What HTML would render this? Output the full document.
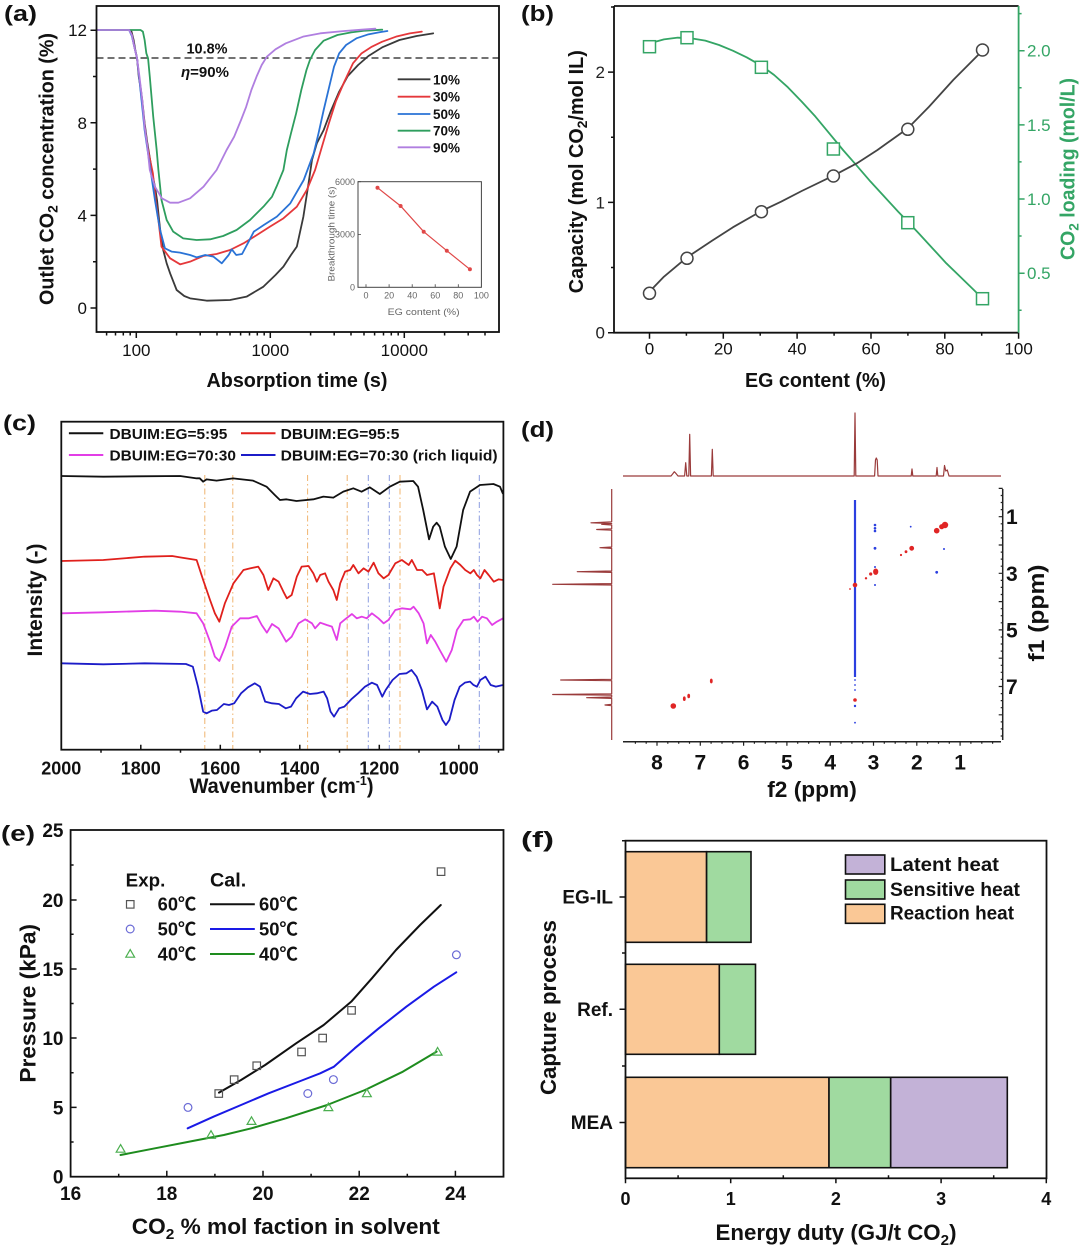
<!DOCTYPE html>
<html><head><meta charset="utf-8">
<style>
html,body{margin:0;padding:0;background:#fff;}
svg{display:block;}
text{font-family:"Liberation Sans",Arial,"Noto Sans CJK SC",sans-serif;fill:#111;}
.b{font-weight:bold;}
.ns{vector-effect:non-scaling-stroke;fill:none;stroke-linejoin:round;stroke-linecap:round;}
</style></head><body>
<svg width="1080" height="1249" viewBox="0 0 1080 1249" xmlns="http://www.w3.org/2000/svg">
<rect width="1080" height="1249" fill="#fff"/>

<!-- ============ PANEL A ============ -->
<text x="4" y="21" font-size="22" class="b" textLength="33" lengthAdjust="spacingAndGlyphs">(a)</text>
<line x1="96.5" y1="58" x2="499" y2="58" stroke="#444" stroke-width="1.6" stroke-dasharray="7,4"/>
<g transform="scale(0.34435,0.33333)">
<path class="ns" stroke="#3a3a3a" stroke-width="1.8" d="M282,90 L375,90 L382,95 L388,120 L393,150 L398,175 L403,230 L408,260 L413,300 L420,370 L428,430 L436,480 L442,520 L450,560 L456,600 L462,660 L468,715 L474,750 L484,790 L494,820 L513,870 L535,888 L552,895 L600,902 L668,900 L716,890 L765,860 L800,825 L823,800 L845,765 L862,740 L881,650 L896,550 L906,480 L920,430 L940,390 L960,335 L985,275 L1010,228 L1040,195 L1070,168 L1110,142 L1160,120 L1210,108 L1258,100"/>
<path class="ns" stroke="#e5383b" stroke-width="1.8" d="M282,90 L375,90 L383,105 L390,140 L398,175 L405,240 L412,300 L420,380 L428,440 L436,480 L444,520 L452,600 L460,660 L469,740 L494,775 L523,793 L552,785 L590,768 L629,762 L668,750 L707,730 L746,705 L784,680 L823,655 L862,620 L891,570 L915,510 L935,440 L955,370 L975,305 L1000,245 L1025,190 L1050,160 L1080,140 L1110,125 L1150,110 L1190,100 L1225,95"/>
<path class="ns" stroke="#2a73d6" stroke-width="1.8" d="M282,90 L375,90 L383,108 L390,140 L398,175 L405,240 L412,310 L420,390 L430,460 L440,530 L450,600 L458,650 L465,690 L479,745 L499,755 L523,758 L552,765 L571,772 L596,765 L620,770 L644,790 L664,765 L673,748 L686,765 L703,762 L722,725 L737,695 L766,675 L804,650 L843,610 L882,540 L911,460 L925,400 L940,330 L955,265 L970,200 L985,160 L1005,135 L1035,115 L1070,103 L1100,97 L1125,93"/>
<path class="ns" stroke="#2e9e5e" stroke-width="1.8" d="M282,90 L408,90 L415,95 L420,120 L425,160 L430,175 L435,230 L440,290 L445,350 L450,400 L455,450 L460,510 L469,600 L484,660 L503,695 L532,715 L571,720 L610,718 L648,708 L687,690 L726,660 L765,620 L790,590 L803,560 L815,530 L823,510 L833,450 L845,400 L860,340 L875,270 L890,210 L900,180 L915,150 L940,122 L980,105 L1020,97 L1060,92 L1110,89"/>
<path class="ns" stroke="#b07fe0" stroke-width="1.8" d="M282,90 L375,90 L383,105 L390,140 L398,175 L405,230 L413,300 L420,380 L428,440 L435,510 L450,560 L470,595 L494,608 L518,608 L552,595 L591,560 L629,510 L658,450 L680,410 L700,360 L715,320 L730,270 L745,230 L760,195 L775,170 L800,148 L830,130 L880,110 L930,100 L1000,93 L1050,89 L1090,86"/>
</g>
<rect x="96.5" y="6" width="402.5" height="326" fill="none" stroke="#111" stroke-width="1.8"/>
<path stroke="#111" stroke-width="1.5" fill="none" d="M90.5,308H96.5 M90.5,215.4H96.5 M90.5,122.8H96.5 M90.5,30.2H96.5 M93,261.7H96.5 M93,169.1H96.5 M93,76.5H96.5 M136.3,332V338 M270.3,332V338 M404.3,332V338 M106.6,332V335.5 M115.5,332V335.5 M123.3,332V335.5 M130.2,332V335.5 M176.6,332V335.5 M200.2,332V335.5 M217,332V335.5 M230,332V335.5 M240.6,332V335.5 M249.5,332V335.5 M257.3,332V335.5 M264.2,332V335.5 M310.6,332V335.5 M334.2,332V335.5 M351,332V335.5 M364,332V335.5 M374.6,332V335.5 M383.5,332V335.5 M391.3,332V335.5 M398.2,332V335.5 M444.6,332V335.5 M468.2,332V335.5 M485,332V335.5"/>
<g font-size="17" text-anchor="end">
<text x="87" y="314">0</text><text x="87" y="221.4">4</text><text x="87" y="128.8">8</text><text x="87" y="36.2">12</text>
</g>
<g font-size="17" text-anchor="middle">
<text x="136.3" y="356">100</text><text x="270.3" y="356">1000</text><text x="404.3" y="356">10000</text>
</g>
<text transform="translate(53.7,169) rotate(-90)" font-size="20" class="b" text-anchor="middle" textLength="272" lengthAdjust="spacingAndGlyphs">Outlet CO<tspan font-size="14" dy="4">2</tspan><tspan dy="-4"> concentration (%)</tspan></text>
<text x="297" y="387" font-size="20" class="b" text-anchor="middle" textLength="181" lengthAdjust="spacingAndGlyphs">Absorption time (s)</text>
<text x="207" y="53.5" font-size="15" class="b" text-anchor="middle" textLength="41" lengthAdjust="spacingAndGlyphs">10.8%</text>
<text x="205" y="77" font-size="15" class="b" text-anchor="middle" textLength="48" lengthAdjust="spacingAndGlyphs"><tspan font-style="italic">η</tspan>=90%</text>
<!-- legend a -->
<g stroke-width="1.8">
<line x1="397.7" y1="79.3" x2="430.4" y2="79.3" stroke="#3a3a3a"/>
<line x1="397.7" y1="96.7" x2="430.4" y2="96.7" stroke="#e5383b"/>
<line x1="397.7" y1="114" x2="430.4" y2="114" stroke="#2a73d6"/>
<line x1="397.7" y1="130.7" x2="430.4" y2="130.7" stroke="#2e9e5e"/>
<line x1="397.7" y1="147.3" x2="430.4" y2="147.3" stroke="#b07fe0"/>
</g>
<g font-size="14" class="b">
<text x="433" y="84.3" textLength="27" lengthAdjust="spacingAndGlyphs">10%</text>
<text x="433" y="101.7" textLength="27" lengthAdjust="spacingAndGlyphs">30%</text>
<text x="433" y="119" textLength="27" lengthAdjust="spacingAndGlyphs">50%</text>
<text x="433" y="135.7" textLength="27" lengthAdjust="spacingAndGlyphs">70%</text>
<text x="433" y="152.3" textLength="27" lengthAdjust="spacingAndGlyphs">90%</text>
</g>
<!-- inset -->
<rect x="358" y="181.7" width="123.4" height="105.6" fill="#fff" stroke="#444" stroke-width="1"/>
<path stroke="#444" stroke-width="0.8" d="M358,181.7h3 M358,234.5h3 M358,287.3h-0 M366,287.3v-3 M389.1,287.3v-3 M412.2,287.3v-3 M435.2,287.3v-3 M458.3,287.3v-3"/>
<polyline fill="none" stroke="#e04848" stroke-width="1.2" points="377.5,187.7 400.6,206 423.7,231.7 446.8,250.7 469.9,269.3"/>
<g fill="#e04848"><circle cx="377.5" cy="187.7" r="2"/><circle cx="400.6" cy="206" r="2"/><circle cx="423.7" cy="231.7" r="2"/><circle cx="446.8" cy="250.7" r="2"/><circle cx="469.9" cy="269.3" r="2"/></g>
<g font-size="9" style="fill:#666" text-anchor="end">
<text x="355" y="185" style="fill:#666">6000</text><text x="355" y="237.5" style="fill:#666">3000</text><text x="355" y="290.5" style="fill:#666">0</text>
</g>
<g font-size="9" text-anchor="middle">
<text x="366" y="298.5" style="fill:#666">0</text><text x="389.1" y="298.5" style="fill:#666">20</text><text x="412.2" y="298.5" style="fill:#666">40</text><text x="435.2" y="298.5" style="fill:#666">60</text><text x="458.3" y="298.5" style="fill:#666">80</text><text x="481.4" y="298.5" style="fill:#666">100</text>
</g>
<text transform="translate(334.5,234) rotate(-90)" font-size="9.5" text-anchor="middle" textLength="95" lengthAdjust="spacingAndGlyphs" style="fill:#666">Breakthrough time (s)</text>
<text x="423.6" y="315" font-size="9.5" text-anchor="middle" textLength="72" lengthAdjust="spacingAndGlyphs" style="fill:#666">EG content (%)</text>

<!-- ============ PANEL B ============ -->
<text x="521" y="21" font-size="22" class="b" textLength="33" lengthAdjust="spacingAndGlyphs">(b)</text>
<g transform="translate(540,0) scale(0.34435,0.33333)">
<path class="ns" stroke="#34a565" stroke-width="1.8" d="M318,130 L360,118 L400,113 L440,115 L480,122 L520,135 L560,152 L600,172 L643,197 L680,225 L720,262 L760,305 L800,350 L840,400 L880,450 L920,497 L960,545 L1000,590 L1040,635 L1068,665 L1100,700 L1140,745 L1180,790 L1220,830 L1260,870 L1285,896"/>
<path class="ns" stroke="#444" stroke-width="1.8" d="M318,875 L360,830 L427,772 L500,722 L560,682 L643,633 L700,605 L760,573 L852,527 L920,490 L980,450 L1068,385 L1130,320 L1200,240 L1285,152"/>
</g>
<g fill="#fff" stroke="#444" stroke-width="1.5">
<circle cx="649.5" cy="293.3" r="6"/><circle cx="687" cy="258.3" r="6"/><circle cx="761.4" cy="211.7" r="6"/><circle cx="833.4" cy="176" r="6"/><circle cx="907.8" cy="129.3" r="6"/><circle cx="982.5" cy="50" r="6"/>
</g>
<g fill="#fff" stroke="#34a565" stroke-width="1.5">
<rect x="643.5" y="40.7" width="12" height="12"/><rect x="681" y="31.7" width="12" height="12"/><rect x="755.4" y="61.3" width="12" height="12"/><rect x="827.4" y="143" width="12" height="12"/><rect x="901.8" y="216.7" width="12" height="12"/><rect x="976.5" y="292.7" width="12" height="12"/>
</g>
<path stroke="#111" stroke-width="1.8" fill="none" d="M614,6H1018.6 M614,6V332.7H1018.6"/>
<line x1="1018.6" y1="6" x2="1018.6" y2="332.7" stroke="#34a565" stroke-width="1.8"/>
<path stroke="#111" stroke-width="1.5" fill="none" d="M608,332.7H614 M608,202.4H614 M608,72.1H614 M611,267.5H614 M611,137.2H614 M611,7H614 M649.5,332.7v6 M723.3,332.7v6 M797.1,332.7v6 M871,332.7v6 M944.8,332.7v6 M1018.6,332.7v6 M686.4,332.7v3 M760.2,332.7v3 M834.1,332.7v3 M907.9,332.7v3 M981.7,332.7v3"/>
<path stroke="#34a565" stroke-width="1.5" fill="none" d="M1018.6,273.2h6 M1018.6,199h6 M1018.6,124.9h6 M1018.6,50.7h6 M1018.6,310.2h3 M1018.6,236h3 M1018.6,161.9h3 M1018.6,87.8h3 M1018.6,13.6h3"/>
<g font-size="17" text-anchor="end">
<text x="605" y="338.7" style="fill:#222">0</text><text x="605" y="208.4" style="fill:#222">1</text><text x="605" y="78.1" style="fill:#222">2</text>
</g>
<g font-size="17">
<text x="1027" y="279.2" style="fill:#34a565">0.5</text><text x="1027" y="205" style="fill:#34a565">1.0</text><text x="1027" y="130.9" style="fill:#34a565">1.5</text><text x="1027" y="56.7" style="fill:#34a565">2.0</text>
</g>
<g font-size="17" text-anchor="middle">
<text x="649.5" y="354.5">0</text><text x="723.3" y="354.5">20</text><text x="797.1" y="354.5">40</text><text x="871" y="354.5">60</text><text x="944.8" y="354.5">80</text><text x="1018.6" y="354.5">100</text>
</g>
<text transform="translate(583,171.7) rotate(-90)" font-size="20" class="b" text-anchor="middle" textLength="243" lengthAdjust="spacingAndGlyphs">Capacity (mol CO<tspan font-size="14" dy="4">2</tspan><tspan dy="-4">/mol IL)</tspan></text>
<text transform="translate(1074.5,169) rotate(-90)" font-size="20" class="b" text-anchor="middle" textLength="182" lengthAdjust="spacingAndGlyphs" style="fill:#34a565">CO<tspan font-size="14" dy="4" style="fill:#34a565">2</tspan><tspan dy="-4" style="fill:#34a565"> loading (mol/L)</tspan></text>
<text x="815.5" y="387" font-size="20" class="b" text-anchor="middle" textLength="141" lengthAdjust="spacingAndGlyphs">EG content (%)</text>

<!-- ============ PANEL C ============ -->
<text x="3" y="430.5" font-size="22" class="b" textLength="33" lengthAdjust="spacingAndGlyphs">(c)</text>
<g stroke-width="1" fill="none" stroke-dasharray="6,3,1.5,3">
<path stroke="#f0b46e" d="M204.8,475V750 M232.8,475V750 M307.6,475V750 M347.2,475V750 M400,475V750"/>
<path stroke="#8a9de0" d="M368.3,475V750 M389.3,475V750 M479.3,475V750"/>
</g>
<g transform="translate(0,400) scale(0.34435,0.33333)">
<path class="ns" stroke="#111" stroke-width="1.8" d="M178,228 L300,230 L400,229 L523,228 L571,235 L580,235 L590,245 L600,238 L629,242 L677,235 L735,242 L774,260 L798,285 L813,300 L832,298 L861,303 L910,298 L939,290 L968,293 L997,275 L1026,265 L1050,275 L1074,262 L1103,282 L1132,260 L1161,245 L1200,243 L1214,260 L1229,330 L1246,418 L1258,380 L1268,368 L1277,380 L1292,440 L1309,477 L1326,440 L1345,330 L1365,275 L1394,255 L1433,252 L1452,260 L1460,280"/>
<path class="ns" stroke="#e0201c" stroke-width="1.8" d="M178,483 L300,480 L420,470 L500,468 L523,472 L571,480 L590,540 L610,600 L624,640 L637,665 L653,610 L678,550 L707,510 L726,505 L750,500 L765,525 L779,570 L794,535 L809,545 L823,575 L833,595 L847,585 L862,530 L876,500 L896,498 L910,520 L920,545 L930,525 L944,520 L954,545 L968,570 L978,600 L988,550 L1002,515 L1017,510 L1026,495 L1041,520 L1056,505 L1070,515 L1085,488 L1099,520 L1114,535 L1128,525 L1148,490 L1167,480 L1187,495 L1196,480 L1211,510 L1226,510 L1240,525 L1260,520 L1269,575 L1277,625 L1288,560 L1308,505 L1322,482 L1337,495 L1351,510 L1366,520 L1376,510 L1385,525 L1395,535 L1407,510 L1419,525 L1434,545 L1448,538 L1461,540"/>
<path class="ns" stroke="#e23ee6" stroke-width="1.8" d="M178,640 L300,637 L450,632 L523,635 L571,640 L590,670 L610,725 L624,770 L637,783 L654,740 L673,680 L697,655 L722,655 L746,648 L760,675 L775,698 L790,672 L809,685 L831,725 L847,710 L867,670 L886,658 L906,670 L915,685 L930,668 L949,675 L964,680 L978,720 L988,670 L1002,658 L1022,642 L1036,655 L1051,650 L1065,655 L1080,640 L1099,655 L1114,670 L1128,660 L1148,630 L1167,625 L1192,628 L1201,620 L1216,640 L1230,670 L1240,730 L1251,705 L1264,725 L1277,750 L1296,785 L1312,750 L1327,690 L1346,660 L1366,658 L1376,650 L1387,665 L1400,650 L1414,655 L1429,675 L1443,665 L1461,655"/>
<path class="ns" stroke="#1c1cc8" stroke-width="1.8" d="M178,790 L300,793 L420,790 L540,792 L560,800 L575,860 L590,935 L600,940 L615,932 L630,930 L650,912 L665,915 L680,910 L700,880 L720,862 L740,850 L755,860 L770,905 L790,910 L810,912 L830,925 L845,920 L860,895 L880,875 L900,882 L920,880 L940,875 L950,895 L960,935 L970,950 L985,925 L1000,920 L1020,898 L1040,880 L1060,860 L1080,848 L1095,855 L1110,890 L1120,870 L1140,840 L1160,822 L1180,820 L1195,810 L1210,830 L1225,870 L1240,928 L1255,905 L1270,920 L1285,960 L1295,975 L1305,960 L1320,900 L1335,860 L1350,848 L1365,845 L1375,855 L1385,860 L1395,840 L1410,830 L1425,855 L1440,860 L1461,855"/>
</g>
<rect x="61.3" y="421.7" width="442.1" height="328" fill="none" stroke="#111" stroke-width="1.8"/>
<path stroke="#111" stroke-width="1.5" fill="none" d="M140.8,749.7v-5 M220.3,749.7v-5 M299.8,749.7v-5 M379.3,749.7v-5 M458.8,749.7v-5 M101,749.7v3 M180.5,749.7v3 M260,749.7v3 M339.5,749.7v3 M419,749.7v3 M498.5,749.7v3"/>
<g font-size="18" class="b" text-anchor="middle">
<text x="61.3" y="774.5">2000</text><text x="140.8" y="774.5">1800</text><text x="220.3" y="774.5">1600</text><text x="299.8" y="774.5">1400</text><text x="379.3" y="774.5">1200</text><text x="458.8" y="774.5">1000</text>
</g>
<!-- legend c -->
<g stroke-width="2">
<line x1="68.9" y1="433.3" x2="103.3" y2="433.3" stroke="#111"/>
<line x1="241" y1="433.3" x2="275.5" y2="433.3" stroke="#e0201c"/>
<line x1="68.9" y1="455" x2="103.3" y2="455" stroke="#e23ee6"/>
<line x1="241" y1="455" x2="275.5" y2="455" stroke="#1c1cc8"/>
</g>
<g font-size="15" class="b">
<text x="109.5" y="438.8" textLength="117.8" lengthAdjust="spacingAndGlyphs">DBUIM:EG=5:95</text>
<text x="280.6" y="438.8" textLength="118.8" lengthAdjust="spacingAndGlyphs">DBUIM:EG=95:5</text>
<text x="109.5" y="460.5" textLength="126.4" lengthAdjust="spacingAndGlyphs">DBUIM:EG=70:30</text>
<text x="280.6" y="460.5" textLength="217" lengthAdjust="spacingAndGlyphs">DBUIM:EG=70:30 (rich liquid)</text>
</g>
<text transform="translate(42,600) rotate(-90)" font-size="21" class="b" text-anchor="middle" textLength="113" lengthAdjust="spacingAndGlyphs">Intensity (-)</text>
<text x="281.5" y="793" font-size="21" class="b" text-anchor="middle" textLength="184" lengthAdjust="spacingAndGlyphs">Wavenumber (cm<tspan font-size="13" dy="-8">-1</tspan><tspan dy="8">)</tspan></text>

<!-- ============ PANEL D ============ -->
<text x="521" y="437" font-size="22" class="b" textLength="33" lengthAdjust="spacingAndGlyphs">(d)</text>
<path fill="none" stroke="#9a3b3b" stroke-width="1.2" stroke-linejoin="round" d="M623,476 L671,476 L673,473.5 L674.3,471.7 L676,473.5 L678,476 L684.6,476 L685.7,462.7 L686.8,476 L688.8,476 L689.7,434.3 L690.6,476 L711.4,476 L712.3,449.3 L713.2,476 L854.2,476 L855,413 L855.8,476 L874.6,476 L875.5,460 L876.3,458 L877.2,460 L878,476 L911.2,476 L912,469 L912.8,476 L936.2,476 L937,467.5 L937.8,476 L943.5,476 L944.5,465.5 L945.8,471 L947.3,470 L949,476 L1001,476"/>
<path fill="none" stroke="#9a3b3b" stroke-width="1.2" stroke-linejoin="round" d="M611.7,489 L611.7,521.8 L591,522.8 L611.7,523.5 L601.7,524.3 L611.7,525 L611.7,528.8 L596.7,529.5 L611.7,530.2 L611.7,547 L600,547.7 L611.7,548.4 L611.7,571 L577.3,571.7 L611.7,572.4 L611.7,583.6 L552.7,584.3 L611.7,585 L611.7,679.3 L560.7,680 L611.7,680.7 L611.7,693.8 L552.7,694.5 L611.7,695.2 L611.7,697 L586.7,697.7 L611.7,698.4 L611.7,704.3 L605,705 L611.7,705.7 L611.7,740"/>
<!-- blue -->
<g fill="#2b3fe0">
<rect x="853.9" y="500" width="2.2" height="177"/>
<circle cx="855" cy="680" r="0.9"/><circle cx="855" cy="685" r="0.9"/><circle cx="855" cy="690" r="0.9"/><circle cx="855" cy="706" r="1.2"/><circle cx="855" cy="722.7" r="0.9"/>
<circle cx="875" cy="525" r="1.3"/><circle cx="875" cy="528.3" r="1.3"/><circle cx="875" cy="531" r="1.3"/><circle cx="875" cy="548.3" r="1.4"/><circle cx="875" cy="567" r="1"/><circle cx="875" cy="585" r="1"/>
<circle cx="910.7" cy="526.7" r="0.9"/><circle cx="944" cy="549" r="1"/><circle cx="936.7" cy="572.3" r="1.4"/>
</g>
<g fill="#e02525">
<circle cx="945" cy="525" r="3.2"/><circle cx="941.7" cy="526.7" r="2.6"/><circle cx="936.7" cy="530.7" r="2.8"/><circle cx="911.7" cy="548.3" r="2.4"/><circle cx="906" cy="551.7" r="1.4"/><circle cx="901" cy="555" r="1.1"/><ellipse cx="875.7" cy="571.7" rx="2.6" ry="3.2"/><circle cx="870.7" cy="574" r="1.6"/><circle cx="866" cy="578.3" r="1.2"/><circle cx="855" cy="585" r="2.3"/><circle cx="850" cy="589" r="0.9"/>
<ellipse cx="711.3" cy="681" rx="1.4" ry="2.4"/><ellipse cx="688.7" cy="696" rx="1.4" ry="2.3"/><ellipse cx="684.3" cy="698.7" rx="1.4" ry="2.3"/><circle cx="673.3" cy="706" r="2.8"/><circle cx="855" cy="700" r="1.8"/>
</g>
<!-- axes d -->
<path stroke="#222" stroke-width="1.5" fill="none" d="M623,741.7H1001 M1002.7,489V740"/>
<path stroke="#222" stroke-width="1.2" fill="none" d="M657,741.7v4 M700.3,741.7v4 M743.6,741.7v4 M786.9,741.7v4 M830.2,741.7v4 M873.5,741.7v4 M916.8,741.7v4 M960.1,741.7v4 M635.4,741.7v2 M646.2,741.7v2 M667.8,741.7v2 M678.7,741.7v2 M689.5,741.7v2 M711.1,741.7v2 M722,741.7v2 M732.8,741.7v2 M754.4,741.7v2 M765.3,741.7v2 M776.1,741.7v2 M797.7,741.7v2 M808.6,741.7v2 M819.4,741.7v2 M841,741.7v2 M851.9,741.7v2 M862.7,741.7v2 M884.3,741.7v2 M895.2,741.7v2 M906,741.7v2 M927.6,741.7v2 M938.5,741.7v2 M949.3,741.7v2 M970.9,741.7v2 M981.8,741.7v2 M992.6,741.7v2 M998.7,488.4h4 M998.7,516.7h4 M998.7,545h4 M998.7,573.3h4 M998.7,601.6h4 M998.7,629.9h4 M998.7,658.2h4 M998.7,686.5h4 M998.7,714.8h4 M1000.7,495.5h2 M1000.7,502.5h2 M1000.7,509.6h2 M1000.7,523.8h2 M1000.7,530.8h2 M1000.7,537.9h2 M1000.7,552.1h2 M1000.7,559.1h2 M1000.7,566.2h2 M1000.7,580.4h2 M1000.7,587.4h2 M1000.7,594.5h2 M1000.7,608.7h2 M1000.7,615.7h2 M1000.7,622.8h2 M1000.7,637h2 M1000.7,644h2 M1000.7,651.1h2 M1000.7,665.3h2 M1000.7,672.3h2 M1000.7,679.4h2 M1000.7,693.6h2 M1000.7,700.6h2 M1000.7,707.7h2 M1000.7,721.9h2 M1000.7,728.9h2 M1000.7,736h2"/>
<g font-size="21" class="b" text-anchor="middle">
<text x="657" y="769.5">8</text><text x="700.3" y="769.5">7</text><text x="743.6" y="769.5">6</text><text x="786.9" y="769.5">5</text><text x="830.2" y="769.5">4</text><text x="873.5" y="769.5">3</text><text x="916.8" y="769.5">2</text><text x="960.1" y="769.5">1</text>
</g>
<g font-size="21" class="b">
<text x="1006" y="524.2">1</text><text x="1006" y="580.8">3</text><text x="1006" y="637.4">5</text><text x="1006" y="694">7</text>
</g>
<text x="812" y="797" font-size="22" class="b" text-anchor="middle" textLength="89.5" lengthAdjust="spacingAndGlyphs">f2 (ppm)</text>
<text transform="translate(1044,613) rotate(-90)" font-size="22" class="b" text-anchor="middle" textLength="97" lengthAdjust="spacingAndGlyphs">f1 (ppm)</text>

<!-- ============ PANEL E ============ -->
<text x="1" y="841" font-size="22" class="b" textLength="34" lengthAdjust="spacingAndGlyphs">(e)</text>
<g transform="translate(0,810) scale(0.34435,0.33333)">
<path class="ns" stroke="#111" stroke-width="2" d="M636,848 L700,810 L770,765 L860,700 L940,645 L1020,575 L1080,505 L1150,420 L1220,345 L1280,285"/>
<path class="ns" stroke="#1a1ae6" stroke-width="2" d="M545,955 L620,920 L700,885 L780,850 L880,810 L930,790 L970,770 L1030,715 L1100,655 L1180,590 L1260,530 L1325,487"/>
<path class="ns" stroke="#1e8c1e" stroke-width="2" d="M350,1035 L450,1015 L550,995 L650,975 L730,955 L830,925 L950,885 L1060,840 L1170,785 L1268,725"/>
</g>
<g fill="none" stroke="#555" stroke-width="1.2">
<rect x="215" y="1089.8" width="7.5" height="7.5"/><rect x="230.4" y="1075.9" width="7.5" height="7.5"/><rect x="253" y="1062" width="7.5" height="7.5"/><rect x="297.8" y="1048.2" width="7.5" height="7.5"/><rect x="318.9" y="1034.3" width="7.5" height="7.5"/><rect x="347.8" y="1006.6" width="7.5" height="7.5"/><rect x="437.3" y="867.9" width="7.5" height="7.5"/>
<rect x="126.5" y="900.6" width="7.5" height="7.5"/>
</g>
<g fill="none" stroke="#6b6bd6" stroke-width="1.2">
<circle cx="188" cy="1107.4" r="3.9"/><circle cx="307.8" cy="1093.5" r="3.9"/><circle cx="333.4" cy="1079.6" r="3.9"/><circle cx="456.4" cy="954.8" r="3.9"/>
<circle cx="130.2" cy="929" r="3.9"/>
</g>
<g fill="none" stroke="#4caf50" stroke-width="1.2">
<path d="M120.6,1144.6 L125,1152.2 L116.2,1152.2Z M211,1130.7 L215.4,1138.3 L206.6,1138.3Z M251.5,1116.8 L255.9,1124.4 L247.1,1124.4Z M328.4,1103 L332.8,1110.6 L324,1110.6Z M366.9,1089.1 L371.3,1096.7 L362.5,1096.7Z M437.6,1047.5 L442,1055.1 L433.2,1055.1Z M130.2,949.6 L134.6,957.2 L125.8,957.2Z"/>
</g>
<rect x="70.6" y="830" width="432.9" height="346.7" fill="none" stroke="#111" stroke-width="1.8"/>
<path stroke="#111" stroke-width="1.5" fill="none" d="M70.6,1107.4h6 M70.6,1038h6 M70.6,969h6 M70.6,900h6 M70.6,1142h3 M70.6,1072.7h3 M70.6,1003.5h3 M70.6,934.3h3 M70.6,865h3 M166.8,1176.7v-6 M263,1176.7v-6 M359.2,1176.7v-6 M455.4,1176.7v-6 M118.7,1176.7v-3 M214.9,1176.7v-3 M311.1,1176.7v-3 M407.3,1176.7v-3"/>
<g font-size="19" class="b" text-anchor="end">
<text x="63.5" y="1183.7">0</text><text x="63.5" y="1114.4">5</text><text x="63.5" y="1045">10</text><text x="63.5" y="976">15</text><text x="63.5" y="907">20</text><text x="63.5" y="837">25</text>
</g>
<g font-size="19" class="b" text-anchor="middle">
<text x="70.6" y="1200">16</text><text x="166.8" y="1200">18</text><text x="263" y="1200">20</text><text x="359.2" y="1200">22</text><text x="455.4" y="1200">24</text>
</g>
<text x="125.7" y="886.5" font-size="18.5" class="b" textLength="39.6" lengthAdjust="spacingAndGlyphs">Exp.</text>
<text x="210" y="886.5" font-size="19" class="b" textLength="36.2" lengthAdjust="spacingAndGlyphs">Cal.</text>
<g stroke-width="2">
<line x1="210" y1="904.3" x2="254.8" y2="904.3" stroke="#111"/>
<line x1="210" y1="929" x2="254.8" y2="929" stroke="#1a1ae6"/>
<line x1="210" y1="954" x2="254.8" y2="954" stroke="#1e8c1e"/>
</g>
<g font-size="18" class="b">
<text x="157.7" y="910.7" textLength="38.6" lengthAdjust="spacingAndGlyphs">60℃</text>
<text x="157.7" y="935.4" textLength="38.6" lengthAdjust="spacingAndGlyphs">50℃</text>
<text x="157.7" y="960.4" textLength="38.6" lengthAdjust="spacingAndGlyphs">40℃</text>
<text x="259" y="910.7" textLength="38.9" lengthAdjust="spacingAndGlyphs">60℃</text>
<text x="259" y="935.4" textLength="38.9" lengthAdjust="spacingAndGlyphs">50℃</text>
<text x="259" y="960.4" textLength="38.9" lengthAdjust="spacingAndGlyphs">40℃</text>
</g>
<text transform="translate(35.5,1003.3) rotate(-90)" font-size="22" class="b" text-anchor="middle" textLength="158.7" lengthAdjust="spacingAndGlyphs">Pressure (kPa)</text>
<text x="285.8" y="1234" font-size="22" class="b" text-anchor="middle" textLength="308" lengthAdjust="spacingAndGlyphs">CO<tspan font-size="15" dy="5">2</tspan><tspan dy="-5"> % mol faction in solvent</tspan></text>

<!-- ============ PANEL F ============ -->
<text x="521" y="847" font-size="22" class="b" textLength="33" lengthAdjust="spacingAndGlyphs">(f)</text>
<g stroke="#111" stroke-width="1.6">
<rect x="625.5" y="851.7" width="81.1" height="90.6" fill="#fac896"/>
<rect x="706.6" y="851.7" width="44.4" height="90.6" fill="#a0daa0"/>
<rect x="625.5" y="964.3" width="93.8" height="90" fill="#fac896"/>
<rect x="719.3" y="964.3" width="36.2" height="90" fill="#a0daa0"/>
<rect x="625.5" y="1077.3" width="203.5" height="90.4" fill="#fac896"/>
<rect x="829" y="1077.3" width="61.7" height="90.4" fill="#a0daa0"/>
<rect x="890.7" y="1077.3" width="116.6" height="90.4" fill="#c3b2d7"/>
<rect x="845.5" y="855" width="39.3" height="19" fill="#c3b2d7"/>
<rect x="845.5" y="880" width="39.3" height="19" fill="#a0daa0"/>
<rect x="845.5" y="904.3" width="39.3" height="19" fill="#fac896"/>
</g>
<rect x="625.5" y="840.7" width="421" height="337.6" fill="none" stroke="#111" stroke-width="1.8"/>
<path stroke="#111" stroke-width="1.5" fill="none" d="M619.5,897H625.5 M619.5,1009.3H625.5 M619.5,1122.5H625.5 M622,953H625.5 M622,1066H625.5 M622,840.7H625.5 M625.5,1178.3v5 M730.7,1178.3v5 M835.9,1178.3v5 M941.1,1178.3v5 M1046.3,1178.3v5 M678.1,1178.3v-3 M783.3,1178.3v-3 M888.5,1178.3v-3 M993.7,1178.3v-3"/>
<g font-size="19" class="b" text-anchor="end">
<text x="613" y="903.5">EG-IL</text><text x="613" y="1016">Ref.</text><text x="613" y="1129">MEA</text>
</g>
<g font-size="18" class="b" text-anchor="middle">
<text x="625.5" y="1205">0</text><text x="730.7" y="1205">1</text><text x="835.9" y="1205">2</text><text x="941.1" y="1205">3</text><text x="1046.3" y="1205">4</text>
</g>
<g font-size="19" class="b">
<text x="890" y="870.8" textLength="109" lengthAdjust="spacingAndGlyphs">Latent heat</text>
<text x="890" y="895.8" textLength="130" lengthAdjust="spacingAndGlyphs">Sensitive heat</text>
<text x="890" y="919.5" textLength="124" lengthAdjust="spacingAndGlyphs">Reaction heat</text>
</g>
<text transform="translate(556,1007.5) rotate(-90)" font-size="22" class="b" text-anchor="middle" textLength="175" lengthAdjust="spacingAndGlyphs">Capture process</text>
<text x="836" y="1240" font-size="22" class="b" text-anchor="middle" textLength="241" lengthAdjust="spacingAndGlyphs">Energy duty (GJ/t CO<tspan font-size="15" dy="5">2</tspan><tspan dy="-5">)</tspan></text>
</svg>
</body></html>
